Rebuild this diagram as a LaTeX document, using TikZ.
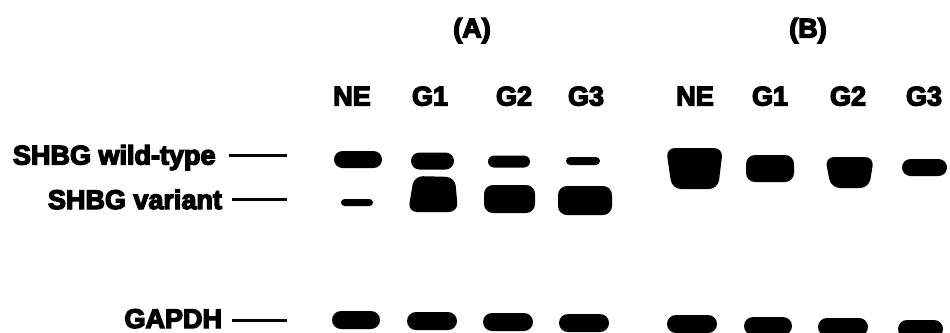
\documentclass[tikz,border=0pt]{standalone}
\usepackage{fontspec}
\newfontfamily\heavy{Liberation Sans Bold}[FakeBold=5]
\usetikzlibrary{shapes.misc}
\begin{document}
\begin{tikzpicture}[x=1bp,y=-1bp,
  lbl/.style={font=\heavy\fontsize{27bp}{30bp}\selectfont, inner sep=0pt, outer sep=0pt},
  pill/.style={rounded rectangle, fill=black, draw=none, inner sep=0pt, outer sep=0pt},
  blob/.style={rectangle, rounded corners=9bp, fill=black, draw=none, inner sep=0pt, outer sep=0pt},
  trap/.style={fill=black, rounded corners=9bp},
  tick/.style={line width=3bp}]
\path[use as bounding box] (0,0) rectangle (950,332);
% headers
\node[lbl, anchor=base] (hA) at (472,37.5) {(A)};
\node[lbl, anchor=base] (hB) at (808,37.5) {(B)};
\node[lbl, anchor=base] (aNE) at (352,105.5) {NE};
\node[lbl, anchor=base] (aG1) at (430,105.5) {G1};
\node[lbl, anchor=base] (aG2) at (514,105.5) {G2};
\node[lbl, anchor=base] (aG3) at (586,105.5) {G3};
\node[lbl, anchor=base] (bNE) at (695,105.5) {NE};
\node[lbl, anchor=base] (bG1) at (770,105.5) {G1};
\node[lbl, anchor=base] (bG2) at (848,105.5) {G2};
\node[lbl, anchor=base] (bG3) at (924,105.5) {G3};
% row labels
\node[lbl, anchor=base west] (lw) at (13,164.5) {SHBG wild-type};
\node[lbl, anchor=base east] (lv) at (222,209) {SHBG variant};
\node[lbl, anchor=base east] (lg) at (222,328) {GAPDH};
\coordinate (w1) at (229,155); \coordinate (w2) at (287,155);
\coordinate (v1) at (232,199); \coordinate (v2) at (287,199);
\coordinate (g1) at (232,320); \coordinate (g2) at (287,320);
\draw[tick] (w1) -- (w2);
\draw[tick] (v1) -- (v2);
\draw[tick] (g1) -- (g2);
\begin{scope}
\clip (0,0) rectangle (950,332);
% (A) wild-type
\node[pill, minimum width=48bp, minimum height=17bp] (awNE) at (358,159.5) {};
\node[pill, minimum width=43bp, minimum height=17bp] (awG1) at (432.5,161) {};
\node[pill, minimum width=42bp, minimum height=12bp] (awG2) at (509,161.5) {};
\node[pill, minimum width=34bp, minimum height=8bp] (awG3) at (583,161) {};
% (A) variant
\node[pill, minimum width=32bp, minimum height=7bp] (avNE) at (357,202.5) {};
\fill[trap] (414,176) -- (455,177) -- (458,212) -- (408,212) -- cycle;
\node[blob, minimum width=51bp, minimum height=28bp] (avG2) at (509.5,199) {};
\node[blob, minimum width=54bp, minimum height=29bp] (avG3) at (585,200.5) {};
% (B) wild-type
\fill[trap] (666,148) -- (723,148) -- (718,189) -- (672,189) -- cycle;
\node[blob, minimum width=48bp, minimum height=27bp] (bwG1) at (770,168.5) {};
\fill[trap] (825,157) -- (874,157) -- (869,188) -- (831,188) -- cycle;
\node[pill, minimum width=45bp, minimum height=17bp] (bwG3) at (924.5,167.5) {};
% GAPDH
\node[pill, minimum width=48bp, minimum height=18bp] (agNE) at (356,320) {};
\node[pill, minimum width=50bp, minimum height=18bp] (agG1) at (432,321) {};
\node[pill, minimum width=50bp, minimum height=18bp] (agG2) at (508,322) {};
\node[pill, minimum width=50bp, minimum height=18bp] (agG3) at (584,323) {};
\node[pill, minimum width=50bp, minimum height=18bp] (bgNE) at (692,324) {};
\node[pill, minimum width=48bp, minimum height=18bp] (bgG1) at (768,326) {};
\node[pill, minimum width=50bp, minimum height=18bp] (bgG2) at (843,327) {};
\node[pill, minimum width=45bp, minimum height=18bp] (bgG3) at (920.5,329) {};
\end{scope}
\end{tikzpicture}
\end{document}
